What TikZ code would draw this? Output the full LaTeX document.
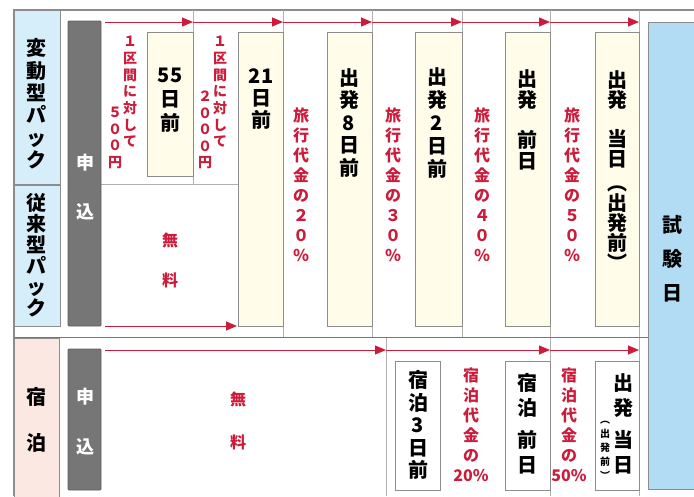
\documentclass[tikz,border=0pt]{standalone}
\usepackage{fontspec}
\usepackage{tikz}
\usetikzlibrary{arrows.meta,calc,positioning}
\usepackage{xcolor}
\newfontfamily\jp{Noto Sans CJK JP}
\definecolor{Aka}{RGB}{204,28,60}
\definecolor{Nezumi}{RGB}{140,140,140}
\definecolor{Sumi}{RGB}{118,118,118}
\definecolor{PackBlue}{RGB}{214,237,250}
\definecolor{ShikenBlue}{RGB}{178,220,243}
\definecolor{ShukuPink}{RGB}{252,232,226}
\definecolor{Kinari}{RGB}{255,253,233}
\tikzset{
  waku/.style={draw=Nezumi, line width=1.2pt},
  sen/.style={draw=Nezumi!70, line width=0.8pt},
  hako/.style={draw=Nezumi, line width=0.9pt},
  ya/.style={Aka, line width=1pt, -{Triangle[length=11pt,width=9pt]}},
  kuro/.style n args={2}{align=center, inner sep=0pt, font=\jp\bfseries\fontsize{#1}{#2}\selectfont},
  aka/.style n args={2}{align=center, inner sep=0pt, text=Aka, font=\jp\bfseries\fontsize{#1}{#2}\selectfont},
  shiro/.style n args={2}{align=center, inner sep=0pt, text=white, font=\jp\bfseries\fontsize{#1}{#2}\selectfont},
}

\begin{document}
\begin{tikzpicture}[x=1pt,y=-1pt]
\useasboundingbox (0,0) rectangle (694,496);
%
% waku
\draw[waku] (14,496) -- (14,10) -- (694,10);
\draw[sen] (193,10) -- (193,184);
\draw[sen] (101,184) -- (238,184);
\foreach \x in {283,372,462,550,639} \draw[sen] (\x,10) -- (\x,337);
\foreach \x in {386,550,639} \draw[sen] (\x,338) -- (\x,496);
\draw[line width=1.4pt, Sumi] (14,337.5) -- (648,337.5);
\draw[hako, fill=PackBlue] (14,10) rectangle (60,184);
\draw[hako, fill=PackBlue] (14,185) rectangle (60,326);
\draw[hako, fill=ShukuPink] (14,338) rectangle (59,500);
\draw[hako, draw=Sumi!80!black, fill=Sumi, rounded corners=1pt] (68,21) rectangle (101,326);
\draw[hako, draw=Sumi!80!black, fill=Sumi, rounded corners=1pt] (68,349) rectangle (101,490);
\draw[hako, fill=ShikenBlue] (648,22) rectangle (700,489);
%
% hako
\draw[hako, fill=Kinari] (147,32) rectangle (193,176);
\foreach \a/\b in {238/283,327/372,415/462,505/550,595/639}
  \draw[hako, fill=Kinari] (\a,32) rectangle (\b,326);
\foreach \a/\b in {395/440,505/550,595/639}
  \draw[hako, fill=white] (\a,361) rectangle (\b,490);
%
% ya
\coordinate (t0) at (105,22);
\foreach \n/\x in {1/193,2/283,3/372,4/462,5/550,6/639} \coordinate (t\n) at (\x,22);
\foreach \a/\b in {0/1,1/2,2/3,3/4,4/5,5/6} \draw[ya] (t\a) -- (t\b);
\coordinate (j0) at (105,326);
\coordinate (j1) at (237,326);
\draw[ya] (j0) -- (j1);
\coordinate (s0) at (105,350);
\foreach \n/\x in {1/386,2/550,3/639} \coordinate (s\n) at (\x,350);
\foreach \a/\b in {0/1,1/2,2/3} \draw[ya] (s\a) -- (s\b);
%
% moji
\node[kuro={20}{22.4}] (hendo) at (37,104) {変\\動\\型\\パ\\ッ\\ク};
\node[kuro={20}{21}] (jurai) at (37,255) {従\\来\\型\\パ\\ッ\\ク};
\node[kuro={20}{46}] (shuku) at (37,420) {宿\\泊};
\node[shiro={18}{49}] (moshi) at (85,187) {申\\込};
\node[shiro={18}{50}] (moshiS) at (85,422) {申\\込};
\node[kuro={20}{34}] (shiken) at (672,259) {試\\験\\日};
\node[aka={16}{40}] (muryo) at (170,260) {無\\料};
\node[aka={16}{43}] (muryoS) at (238,421) {無\\料};
%
\node[aka={14}{16.7}] (kukan1) at (130,92) {１\\区\\間\\に\\対\\し\\て};
\node[aka={14}{16.7}] (en500) at (115,138) {５\\０\\０\\円};
\node[aka={14}{16.7}] (kukan2) at (220,92) {１\\区\\間\\に\\対\\し\\て};
\node[aka={14}{16.5}] (en2000) at (205,130) {２\\０\\０\\０\\円};
\node[aka={16}{20}] (ryo20) at (301,185) {旅\\行\\代\\金\\の\\２\\０\\％};
\node[aka={16}{20}] (ryo30) at (393,185) {旅\\行\\代\\金\\の\\３\\０\\％};
\node[aka={16}{20}] (ryo40) at (482,185) {旅\\行\\代\\金\\の\\４\\０\\％};
\node[aka={16}{20}] (ryo50) at (572,185) {旅\\行\\代\\金\\の\\５\\０\\％};
\node[aka={16}{20}] (haku20) at (471,425) {宿\\泊\\代\\金\\の\\20\%};
\node[aka={16}{20}] (haku50) at (569,425) {宿\\泊\\代\\金\\の\\50\%};
%
\node[kuro={20}{24}] (d55) at (170,100) {55\\日\\前};
\node[kuro={20}{22}] (d21) at (261,99) {21\\日\\前};
\node[kuro={20}{22.5}] (d8) at (349,123) {出\\発\\8\\日\\前};
\node[kuro={20}{23}] (d2) at (437,123) {出\\発\\2\\日\\前};
\node[kuro={20}{21}] (zen) at (527,120) {出\\発\\[19pt]前\\日};
\node[kuro={20}{20}, anchor=north] (toujitsu) at (617,70) {出\\発\\[19pt]当\\日\\[4pt]︵\\出\\発\\前\\︶};
\node[kuro={20}{22.5}] (h3) at (418,425) {宿\\泊\\3\\日\\前};
\node[kuro={20}{25}] (hzen) at (527,424) {宿\\泊\\[7pt]前\\日};
\node[kuro={20}{25}] (htou) at (623,424) {出\\発\\[7pt]当\\日};
\node[kuro={10}{14}] (htouS) at (605,450) {︵\\出\\発\\前\\︶};
%
\end{tikzpicture}
\end{document}
